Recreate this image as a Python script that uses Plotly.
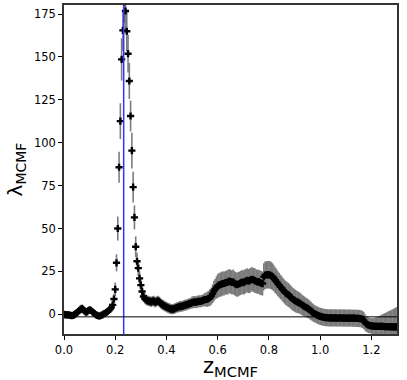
import plotly.graph_objects as go

# redshift grid of the MCMF scan
z_mcmf = [
    0.000, 0.005, 0.010, 0.015, 0.020, 0.025, 0.030, 0.035, 0.040, 0.045,
    0.050, 0.055, 0.060, 0.065, 0.070, 0.075, 0.080, 0.085, 0.090, 0.095,
    0.100, 0.105, 0.110, 0.115, 0.120, 0.125, 0.130, 0.135, 0.140, 0.145,
    0.150, 0.155, 0.160, 0.165, 0.170, 0.175, 0.180, 0.185, 0.190, 0.195,
    0.200, 0.205, 0.210, 0.215, 0.220, 0.225, 0.230, 0.235, 0.240, 0.245,
    0.250, 0.255, 0.260, 0.265, 0.270, 0.275, 0.280, 0.285, 0.290, 0.295,
    0.300, 0.305, 0.310, 0.315, 0.320, 0.325, 0.330, 0.335, 0.340, 0.345,
    0.350, 0.355, 0.360, 0.365, 0.370, 0.375, 0.380, 0.385, 0.390, 0.395,
    0.400, 0.405, 0.410, 0.415, 0.420, 0.425, 0.430, 0.435, 0.440, 0.445,
    0.450, 0.455, 0.460, 0.465, 0.470, 0.475, 0.480, 0.485, 0.490, 0.495,
    0.500, 0.505, 0.510, 0.515, 0.520, 0.525, 0.530, 0.535, 0.540, 0.545,
    0.550, 0.555, 0.560, 0.565, 0.570, 0.575, 0.580, 0.585, 0.590, 0.595,
    0.600, 0.605, 0.610, 0.615, 0.620, 0.625, 0.630, 0.635, 0.640, 0.645,
    0.650, 0.655, 0.660, 0.665, 0.670, 0.675, 0.680, 0.685, 0.690, 0.695,
    0.700, 0.705, 0.710, 0.715, 0.720, 0.725, 0.730, 0.735, 0.740, 0.745,
    0.750, 0.755, 0.760, 0.765, 0.770, 0.775, 0.780, 0.785, 0.790, 0.795,
    0.800, 0.805, 0.810, 0.815, 0.820, 0.825, 0.830, 0.835, 0.840, 0.845,
    0.850, 0.855, 0.860, 0.865, 0.870, 0.875, 0.880, 0.885, 0.890, 0.895,
    0.900, 0.905, 0.910, 0.915, 0.920, 0.925, 0.930, 0.935, 0.940, 0.945,
    0.950, 0.955, 0.960, 0.965, 0.970, 0.975, 0.980, 0.985, 0.990, 0.995,
    1.000, 1.005, 1.010, 1.015, 1.020, 1.025, 1.030, 1.035, 1.040, 1.045,
    1.050, 1.055, 1.060, 1.065, 1.070, 1.075, 1.080, 1.085, 1.090, 1.095,
    1.100, 1.105, 1.110, 1.115, 1.120, 1.125, 1.130, 1.135, 1.140, 1.145,
    1.150, 1.155, 1.160, 1.165, 1.170, 1.175, 1.180, 1.185, 1.190, 1.195,
    1.200, 1.205, 1.210, 1.215, 1.220, 1.225, 1.230, 1.235, 1.240, 1.245,
    1.250, 1.255, 1.260, 1.265, 1.270, 1.275, 1.280, 1.285, 1.290, 1.295,
    1.300,
]

# richness lambda_MCMF at each redshift
lam_mcmf = [
    0.0, -0.3, -0.2, -0.5, -0.3, -0.6, -0.8, -0.6, -0.3, 0.2,
    0.8, 1.5, 2.3, 3.0, 3.4, 2.9, 1.9, 1.2, 1.4, 2.1,
    2.6, 2.3, 1.6, 0.9, 0.3, -0.3, -0.7, -1.0, -1.0, -0.7,
    -0.3, 0.2, 0.6, 1.0, 1.5, 2.2, 3.0, 4.0, 5.5, 8.9,
    14.5, 30.0, 50.0, 85.7, 112.6, 148.6, 165.5, 182.0, 176.8, 165.0,
    151.9, 136.0, 115.6, 95.4, 74.1, 56.5, 39.4, 30.9, 26.9, 20.9,
    17.0, 13.3, 10.4, 9.2, 8.5, 8.0, 7.8, 7.5, 7.2, 7.6,
    7.8, 7.0, 7.3, 7.8, 7.5, 6.8, 6.0, 5.5, 5.0, 4.6,
    4.2, 3.8, 3.5, 3.2, 3.0, 3.0, 3.2, 3.6, 3.9, 4.2,
    4.4, 4.6, 4.6, 4.9, 5.2, 5.4, 5.6, 5.9, 6.2, 6.4,
    6.8, 7.0, 7.2, 7.0, 7.3, 7.5, 7.6, 7.6, 7.9, 8.2,
    8.5, 8.6, 8.8, 9.2, 9.8, 10.6, 12.0, 13.5, 14.6, 15.6,
    16.4, 17.0, 17.3, 17.6, 17.9, 18.0, 18.3, 18.6, 18.8, 19.3,
    19.0, 18.6, 18.9, 18.2, 17.6, 17.2, 17.5, 17.9, 18.3, 18.8,
    18.5, 18.9, 19.4, 19.8, 19.3, 19.6, 20.2, 20.4, 20.0, 19.6,
    19.2, 18.9, 19.0, 18.5, 18.2, 17.9, 21.8, 22.8, 22.9, 23.1,
    23.0, 22.9, 22.4, 21.8, 20.9, 19.8, 18.9, 17.8, 17.0, 16.0,
    15.2, 14.2, 13.3, 12.5, 11.9, 11.4, 10.8, 10.0, 9.3, 8.6,
    8.1, 7.6, 7.2, 6.9, 6.5, 6.0, 5.4, 4.9, 4.4, 4.0,
    3.6, 3.1, 2.5, 1.8, 1.2, 0.6, 0.2, -0.2, -0.6, -0.9,
    -1.2, -1.4, -1.6, -1.8, -1.9, -2.0, -2.0, -2.1, -2.1, -2.1,
    -2.2, -2.1, -2.1, -2.2, -2.2, -2.1, -2.1, -2.2, -2.2, -2.2,
    -2.2, -2.2, -2.3, -2.2, -2.2, -2.3, -2.3, -2.3, -2.4, -2.4,
    -2.4, -2.5, -2.6, -3.0, -3.6, -4.6, -5.6, -6.1, -6.4, -6.6,
    -6.8, -6.9, -6.9, -7.0, -7.0, -7.0, -7.1, -7.1, -7.1, -7.1,
    -7.2, -7.2, -7.2, -7.2, -7.2, -7.3, -7.3, -7.3, -7.3, -7.3,
    -7.3,
]

# 1-sigma uncertainty on lambda_MCMF
lam_err = [
    0.8, 0.8, 0.8, 0.8, 0.8, 0.8, 0.8, 0.8, 0.8, 0.8,
    1.0, 1.0, 1.0, 1.0, 1.0, 1.0, 1.0, 1.0, 1.0, 1.0,
    1.0, 1.0, 1.0, 1.0, 1.0, 1.0, 1.0, 1.0, 1.0, 1.0,
    1.0, 1.0, 1.1, 1.2, 1.3, 1.5, 1.7, 2.0, 2.5, 3.0,
    4.0, 5.0, 7.0, 9.0, 10.4, 12.3, 12.0, 12.0, 12.0, 11.5,
    11.0, 10.5, 9.0, 10.4, 9.0, 7.0, 6.0, 5.0, 4.5, 4.0,
    3.5, 3.2, 3.0, 3.0, 3.0, 3.0, 3.0, 3.0, 3.0, 3.0,
    3.0, 3.0, 3.0, 3.0, 3.0, 3.0, 3.0, 3.0, 3.0, 3.0,
    3.0, 3.0, 3.0, 3.0, 3.0, 3.0, 3.0, 3.0, 3.0, 3.0,
    3.2, 3.2, 3.2, 3.2, 3.2, 3.2, 3.2, 3.2, 3.2, 3.2,
    3.5, 3.5, 3.5, 3.5, 3.5, 3.5, 3.5, 3.5, 3.5, 3.5,
    4.0, 4.0, 4.5, 4.5, 5.0, 5.0, 5.5, 6.0, 6.0, 6.5,
    7.0, 7.0, 7.0, 7.2, 7.0, 7.0, 6.8, 7.0, 7.2, 7.0,
    7.0, 7.0, 7.2, 7.0, 7.0, 7.0, 7.2, 7.0, 7.0, 7.0,
    7.0, 7.2, 7.0, 7.0, 7.0, 7.2, 7.0, 7.0, 7.0, 7.2,
    7.0, 7.0, 7.0, 7.2, 7.0, 7.0, 8.0, 8.0, 8.0, 8.0,
    8.0, 8.0, 8.0, 7.8, 7.6, 7.5, 7.4, 7.3, 7.2, 7.1,
    7.0, 7.0, 7.0, 7.0, 7.0, 7.0, 6.9, 6.8, 6.8, 6.7,
    6.6, 6.5, 6.4, 6.3, 6.2, 6.1, 6.0, 5.9, 5.8, 5.7,
    5.6, 5.5, 5.4, 5.3, 5.2, 5.1, 5.0, 5.0, 5.0, 5.0,
    5.0, 5.0, 5.0, 5.0, 5.0, 5.0, 5.0, 5.0, 5.0, 5.0,
    5.0, 5.0, 5.0, 5.0, 5.0, 5.0, 5.0, 5.0, 5.0, 5.0,
    5.0, 5.0, 5.0, 5.0, 5.0, 5.0, 5.0, 5.0, 5.0, 5.0,
    5.0, 5.0, 5.0, 5.0, 5.0, 4.8, 4.6, 4.5, 4.5, 4.5,
    4.5, 4.6, 4.8, 5.0, 5.3, 5.6, 6.0, 6.4, 6.8, 7.2,
    7.6, 8.0, 8.4, 8.8, 9.2, 9.6, 10.0, 10.4, 10.8, 11.2,
    11.5,
]

x_ticks = [0.0, 0.2, 0.4, 0.6, 0.8, 1.0, 1.2]
y_ticks = [0, 25, 50, 75, 100, 125, 150, 175]

z_best = 0.233     # vertical marker for the selected redshift
lam_floor = -1.5   # horizontal reference line

fig = go.Figure()

fig.add_trace(go.Scatter(
    x=z_mcmf, y=lam_mcmf,
    mode="markers",
    marker=dict(symbol="cross", size=6, color="black", line=dict(width=0)),
    error_y=dict(type="data", array=lam_err, visible=True,
                 color="rgba(110,110,110,0.9)", thickness=1.6, width=0),
    showlegend=False,
))

fig.add_shape(type="line", xref="x", yref="paper",
              x0=z_best, x1=z_best, y0=0, y1=1,
              line=dict(color="#3333ff", width=1.5))
fig.add_shape(type="line", xref="paper", yref="y",
              x0=0, x1=1, y0=lam_floor, y1=lam_floor,
              line=dict(color="black", width=1))

fig.update_layout(
    width=407, height=380,
    margin=dict(l=64, r=10, t=3, b=40),
    paper_bgcolor="white", plot_bgcolor="white",
    font=dict(family="DejaVu Sans", size=11.5, color="black"),
)
fig.update_xaxes(
    range=[0, 1.3], tickvals=x_ticks, tickformat=".1f",
    ticks="outside", ticklen=4, tickwidth=1, tickcolor="black",
    showline=True, mirror=True, linecolor="#333", linewidth=1.5,
    showgrid=False, zeroline=False,
    title=dict(text="z<sub>MCMF</sub>", font=dict(size=21), standoff=6),
)
fig.update_yaxes(
    range=[-11.5, 180.3], tickvals=y_ticks,
    ticks="outside", ticklen=4, tickwidth=1, tickcolor="black",
    showline=True, mirror=True, linecolor="#333", linewidth=1.5,
    showgrid=False, zeroline=False,
    title=dict(text="λ<sub>MCMF</sub>", font=dict(size=20), standoff=6),
)

# drop the default page margin so the figure sits at the window corner
fig.write_html("out.html", config={"displayModeBar": False},
               post_script="document.body.style.margin='0';")
